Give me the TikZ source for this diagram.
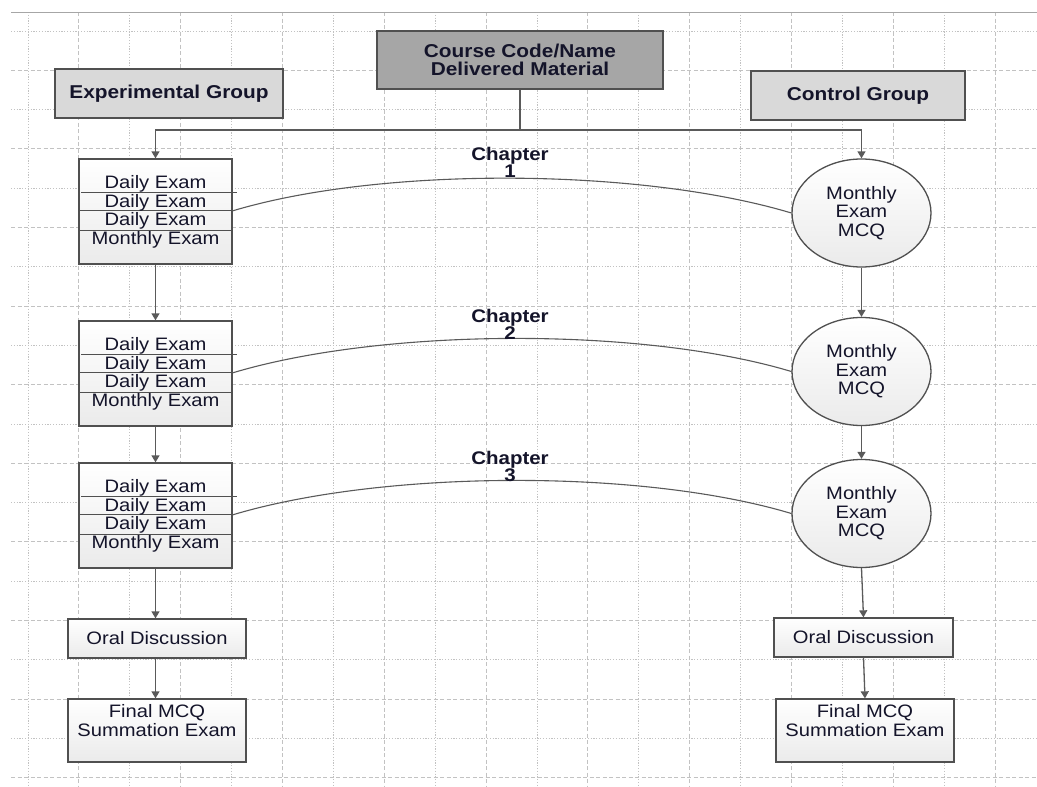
\documentclass[tikz,border=0pt]{standalone}
\usepackage{fontspec}
\setmainfont{Liberation Sans}[FakeStretch=1.12]
\usetikzlibrary{arrows.meta,shapes.geometric,calc}
\definecolor{gridc}{HTML}{C2C2C2}
\definecolor{linec}{HTML}{5A5A5A}
\definecolor{bordc}{HTML}{505050}
\definecolor{darkfill}{HTML}{A6A6A6}
\definecolor{lightfill}{HTML}{D9D9D9}
\definecolor{txt}{HTML}{14142A}
\begin{document}
\begin{tikzpicture}[x=1pt,y=-1pt,
  every node/.style={font=\fontsize{18}{18.5}\selectfont, text=txt, inner sep=0pt},
  gdot/.style={draw=gridc, line width=0.9pt, dash pattern=on 1.2pt off 1.6pt},
  gdash/.style={draw=gridc, line width=0.9pt, dash pattern=on 4pt off 2.5pt},
  grpbox/.style={draw=bordc, line width=1.7pt, fill=lightfill, font=\fontsize{18.6}{18.5}\selectfont\bfseries, align=center},
  coursebox/.style={draw=bordc, line width=1.7pt, fill=darkfill, font=\fontsize{18.6}{17.7}\selectfont\bfseries, align=center},
  exbox/.style={draw=bordc, line width=1.3pt, top color=white, bottom color=black!8, minimum width=153pt, minimum height=105pt},
  plainbox/.style={draw=bordc, line width=1.3pt, top color=white, bottom color=black!8, align=center},
  mcq/.style={ellipse, draw=bordc, line width=1.3pt, top color=white, bottom color=black!8, minimum width=139pt, minimum height=108pt, align=center},
  chap/.style={font=\fontsize{18.3}{17}\selectfont\bfseries, align=center},
  conn/.style={draw=linec, line width=1.3pt},
  arr/.style={conn, -{Triangle[length=7pt,width=8pt]}},
  divl/.style={draw=bordc, line width=1.1pt}
]
% canvas
\path[fill=white] (0,0) rectangle (1037,787);
\useasboundingbox (0,0) rectangle (1037,787);
% grid
\foreach \i in {0,...,19}{
  \pgfmathsetmacro{\gx}{28+50.9*\i}
  \pgfmathsetmacro{\gy}{31+39.3*\i}
  \ifodd\i
    \draw[gdash] (\gx,12) -- (\gx,787);
    \draw[gdash] (11,\gy) -- (1037,\gy);
  \else
    \draw[gdot] (\gx,12) -- (\gx,787);
    \draw[gdot] (11,\gy) -- (1037,\gy);
  \fi
}
\draw[black!35, line width=1pt] (11,12) -- (1037,12);

% header boxes
\node[coursebox, minimum width=286pt, minimum height=58pt] (course) at (520,60) {Course Code/Name\\Delivered Material};
\node[grpbox, minimum width=228pt, minimum height=49pt] (exp) at (169,93.5) {Experimental Group};
\node[grpbox, minimum width=214pt, minimum height=49pt] (ctl) at (858,95.5) {Control Group};

% experimental chapter boxes
\foreach \i/\t in {1/159,2/321,3/463}{
  \node[exbox] (b\i) at (155.5,\t+52.5) {};
  \draw[divl] ($(b\i.north west)+(3,34)$) -- ($(b\i.north east)+(4,34)$);
  \draw[divl] ($(b\i.north west)+(0,52.5)$) -- ($(b\i.north east)+(0,52.5)$);
  \draw[divl] ($(b\i.north west)+(0,72)$) -- ($(b\i.north east)+(0,72)$);
  \node[anchor=base] (b\i d1) at ($(b\i.north)+(0,30)$) {Daily Exam};
  \node[anchor=base] (b\i d2) at ($(b\i.north)+(0,48.7)$) {Daily Exam};
  \node[anchor=base] (b\i d3) at ($(b\i.north)+(0,67.4)$) {Daily Exam};
  \node[anchor=base] (b\i m) at ($(b\i.north)+(0,86)$) {Monthly Exam};
}

% control ellipses
\node[mcq] (e1) at (861.5,213) {Monthly\\Exam\\MCQ};
\node[mcq] (e2) at (861.5,371.5) {Monthly\\Exam\\MCQ};
\node[mcq] (e3) at (861.5,513.5) {Monthly\\Exam\\MCQ};

% bottom boxes
\node[plainbox, minimum width=178pt, minimum height=39pt] (oralL) at (157,638.5) {Oral Discussion};
\node[plainbox, minimum width=178pt, minimum height=63pt] (finL) at (157,730.5) {};
\node[align=center, anchor=north] (finLt) at ($(finL.north)+(0,6)$) {Final MCQ\\Summation Exam};
\node[plainbox, minimum width=179pt, minimum height=39pt] (oralR) at (863.5,637.5) {Oral Discussion};
\node[plainbox, minimum width=178pt, minimum height=63pt] (finR) at (865,730.5) {};
\node[align=center, anchor=north] (finRt) at ($(finR.north)+(0,6)$) {Final MCQ\\Summation Exam};

% connectors from course box
\coordinate (split) at ($(course.south)+(0,40)$);
\draw[conn] (course.south) -- (split);
\draw[arr] (split) -| (b1.north);
\draw[arr] (split) -| (e1.north);

% vertical flows
\draw[arr] (b1.south) -- (b2.north);
\draw[arr] (b2.south) -- (b3.north);
\draw[arr] (b3.south) -- (b3.south |- oralL.north);
\draw[arr] (oralL.south -| b3.south) -- (finL.north -| b3.south);
\draw[arr] (e1.south) -- (e2.north);
\draw[arr] (e2.south) -- (e3.north);
\draw[arr] (e3.south) -- (oralR.north);
\draw[arr] (oralR.south) -- (finR.north);

% chapter arcs
\foreach \i in {1,2,3}{
  \coordinate (s\i) at ($(b\i.north east)+(0,52.5)$);
  \draw[conn, line width=1.1pt] (s\i) .. controls +(150,-45) and +(-150,-45) .. (e\i.west);
}
\node[chap] (ch1) at (510,162) {Chapter\\1};
\node[chap] (ch2) at (510,324.5) {Chapter\\2};
\node[chap] (ch3) at (510,466) {Chapter\\3};
\end{tikzpicture}
\end{document}
